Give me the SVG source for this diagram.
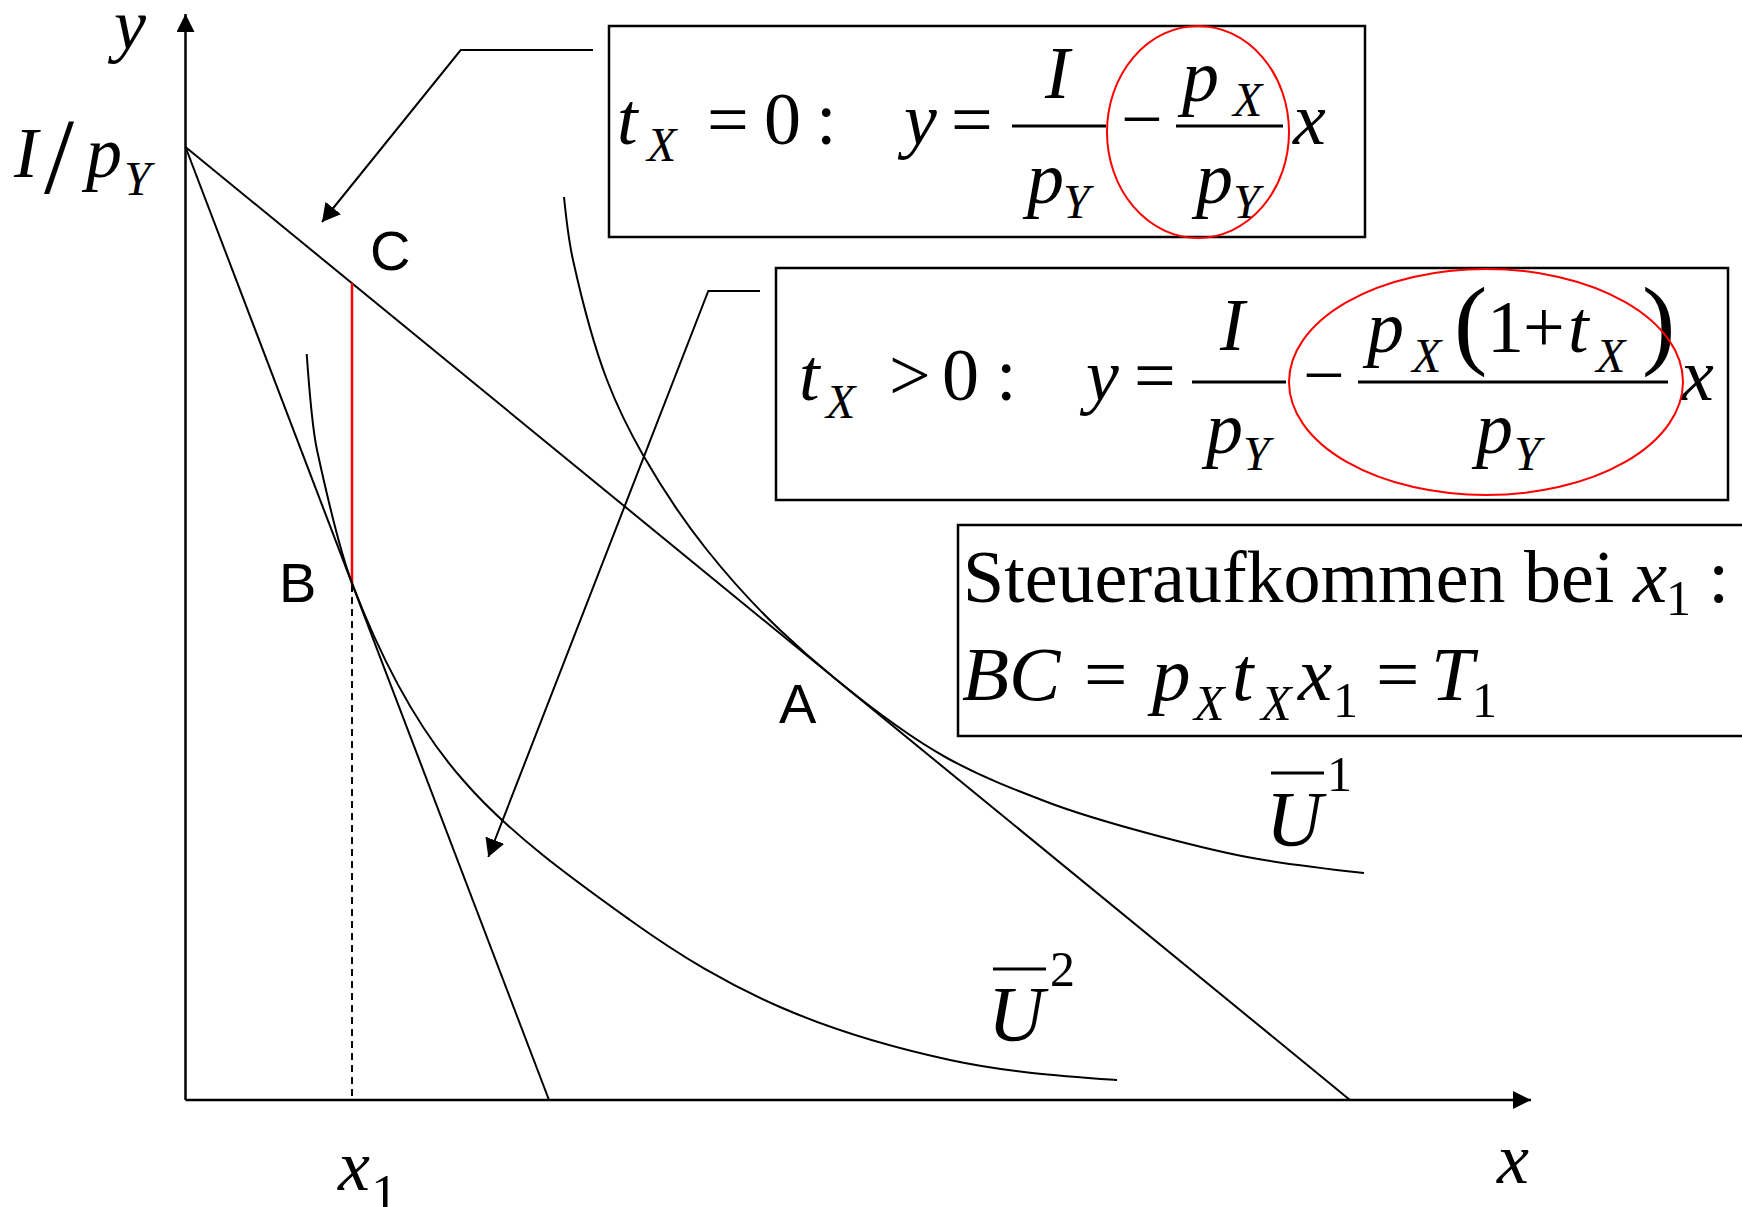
<svg xmlns="http://www.w3.org/2000/svg" width="1742" height="1207" viewBox="0 0 1742 1207">
<style>
.ln{stroke:#000;stroke-width:2;fill:none}
.ax{stroke:#000;stroke-width:2.5;fill:none}
.box{fill:#fff;stroke:#000;stroke-width:2.5}
.red{stroke:#ff0000;stroke-width:2;fill:none}
.bar{stroke:#000;stroke-width:3}
.i{font-family:"Liberation Serif",serif;font-style:italic;fill:#000}
.r{font-family:"Liberation Serif",serif;fill:#000}
.s{font-family:"Liberation Sans",sans-serif;fill:#000;font-size:56px}
.e{font-size:74px}
.sub{font-size:48px}
.t3{font-size:77px}
.s3{font-size:50px}
</style>
<defs>
<marker id="ah" markerUnits="userSpaceOnUse" viewBox="0 0 18 18" refX="18" refY="9" markerWidth="18" markerHeight="18" orient="auto"><path d="M0,0 L18,9 L0,18 z" fill="#000"/></marker>
<marker id="ch" markerUnits="userSpaceOnUse" viewBox="0 0 18 20" refX="18" refY="10" markerWidth="18" markerHeight="20" orient="auto"><path d="M0,0 L18,10 L0,20 z" fill="#000"/></marker>
</defs>
<rect width="1742" height="1207" fill="#fff"/>

<g id="axes">
<line class="ax" x1="185.5" y1="1100" x2="185.5" y2="14" marker-end="url(#ah)"/>
<line class="ax" x1="185.5" y1="1100" x2="1531" y2="1100" marker-end="url(#ah)"/>
<text class="i" x="114" y="49" font-size="72">y</text>
<text class="i" x="1497" y="1183" font-size="72">x</text>
<text class="i" x="338" y="1190" font-size="72">x</text>
<text class="r" x="371" y="1212" font-size="54">1</text>
<text class="i" x="14" y="177" font-size="72">I</text>
<text class="r" x="44" y="193" font-size="108">/</text>
<text class="i" x="86" y="177" font-size="72">p</text>
<text class="i" x="124" y="195" font-size="48">Y</text>
</g>

<g id="budget-lines">
<line class="ln" x1="185.5" y1="147" x2="1350" y2="1100"/>
<line class="ln" x1="185.5" y1="147" x2="549" y2="1100"/>
<line stroke="#ff0000" stroke-width="2.5" x1="352" y1="283" x2="352" y2="585"/>
<line stroke="#000" stroke-width="2" stroke-dasharray="7,5" x1="352" y1="585" x2="352" y2="1100"/>
</g>

<g id="indifference-curves">
<path id="U1" class="ln" d="M564,197 C567,227 570,246.5 573,260 C584.3,311 595.7,350.5 607,380 C619,411.2 631,434 643,455 C664.3,492.3 685.7,523.3 707,550 C731.3,580.4 755.7,606.9 780,630 C798.3,647.4 816.7,663.6 835,678.6 C872.3,709.1 909.7,737.5 947,758 C980.3,776.3 1013.7,789.3 1047,802 C1080.3,814.7 1113.7,824 1147,833 C1180.3,842 1213.7,850.7 1247,857 C1286,864.4 1325,868.7 1364,873"/>
<path id="U2" class="ln" d="M306.7,354 C310.1,402 313.6,434.2 317,450 C328.7,503.7 340.3,552.4 352,583 C376,646 410,720 463,780 C509.3,834 577.2,882.2 630,920 C682.8,957.8 726.7,983.7 780,1007 C833.3,1030.3 893.8,1047.8 950,1060 C1006.2,1072.2 1061.3,1076 1117,1080"/>
</g>

<g id="point-labels">
<text class="s" x="370" y="270">C</text>
<text class="s" x="279" y="602">B</text>
<text class="s" x="779" y="723">A</text>
<g id="label-U1">
<line stroke="#000" stroke-width="3" x1="1271" y1="773" x2="1324" y2="773"/>
<text class="i" x="1266" y="845" font-size="78">U</text>
<text class="r" x="1327" y="791" font-size="50">1</text>
</g>
<g id="label-U2">
<line stroke="#000" stroke-width="3" x1="993" y1="969" x2="1046" y2="969"/>
<text class="i" x="988" y="1040" font-size="78">U</text>
<text class="r" x="1050" y="986" font-size="50">2</text>
</g>
</g>

<g id="connectors">
<polyline class="ln" points="593,50 460.7,50 322,222" marker-end="url(#ch)"/>
<polyline class="ln" points="760,291 708.3,291 488.3,857" marker-end="url(#ch)"/>
</g>

<g id="box-tx0">
<rect class="box" x="609" y="26" width="756" height="211"/>
<text class="i e" x="617" y="144">t</text>
<text class="i sub" x="647" y="161">X</text>
<text class="r e" x="707" y="144">=</text>
<text class="r e" x="764" y="144">0</text>
<text class="r e" x="816" y="144">:</text>
<text class="i e" x="904" y="144">y</text>
<text class="r e" x="951" y="144">=</text>
<line class="bar" x1="1012" y1="126" x2="1106" y2="126"/>
<text class="i e" x="1045" y="98">I</text>
<text class="i e" x="1027" y="203">p</text>
<text class="i sub" x="1063" y="218">Y</text>
<text class="r e" x="1121" y="144">−</text>
<line class="bar" x1="1176" y1="126" x2="1283" y2="126"/>
<text class="i e" x="1182" y="101">p</text>
<text class="i sub" x="1233" y="116">X</text>
<text class="i e" x="1196" y="203">p</text>
<text class="i sub" x="1233" y="218">Y</text>
<text class="i e" x="1293" y="144">x</text>
<ellipse class="red" cx="1198" cy="132" rx="91" ry="106"/>
</g>

<g id="box-tx-pos">
<rect class="box" x="776" y="268" width="952" height="232"/>
<text class="i e" x="799" y="400">t</text>
<text class="i sub" x="826" y="418">X</text>
<text class="r e" x="889" y="400">&gt;</text>
<text class="r e" x="942" y="400">0</text>
<text class="r e" x="996" y="400">:</text>
<text class="i e" x="1086" y="400">y</text>
<text class="r e" x="1134" y="400">=</text>
<line class="bar" x1="1192" y1="382" x2="1286" y2="382"/>
<text class="i e" x="1220" y="350">I</text>
<text class="i e" x="1206" y="453">p</text>
<text class="i sub" x="1243" y="470">Y</text>
<text class="r e" x="1303" y="400">−</text>
<line class="bar" x1="1358" y1="382" x2="1668" y2="382"/>
<text class="i e" x="1367" y="352">p</text>
<text class="i sub" x="1412" y="372">X</text>
<text class="r" x="1454" y="356" font-size="100">(</text>
<text class="r e" x="1487" y="352">1</text>
<text class="r e" x="1523" y="352">+</text>
<text class="i e" x="1568" y="352">t</text>
<text class="i sub" x="1596" y="372">X</text>
<text class="r" x="1642" y="356" font-size="100">)</text>
<text class="i e" x="1476" y="453">p</text>
<text class="i sub" x="1514" y="470">Y</text>
<text class="i e" x="1681" y="400">x</text>
<ellipse class="red" cx="1486" cy="382" rx="197" ry="113"/>
</g>

<g id="box-revenue">
<rect class="box" x="958" y="525" width="800" height="211"/>
<text class="r" x="963" y="602" font-size="74">Steueraufkommen bei</text>
<text class="i t3" x="1633" y="602">x</text>
<text class="r s3" x="1666" y="615">1</text>
<text class="r t3" x="1708" y="602">:</text>
<text class="i t3" x="962" y="700">BC</text>
<text class="r t3" x="1084" y="700">=</text>
<text class="i t3" x="1152" y="700">p</text>
<text class="i s3" x="1194" y="720">X</text>
<text class="i t3" x="1232" y="700">t</text>
<text class="i s3" x="1261" y="720">X</text>
<text class="i t3" x="1298" y="700">x</text>
<text class="r s3" x="1333" y="717">1</text>
<text class="r t3" x="1376" y="700">=</text>
<text class="i t3" x="1431" y="700">T</text>
<text class="r s3" x="1472" y="717">1</text>
</g>
</svg>
